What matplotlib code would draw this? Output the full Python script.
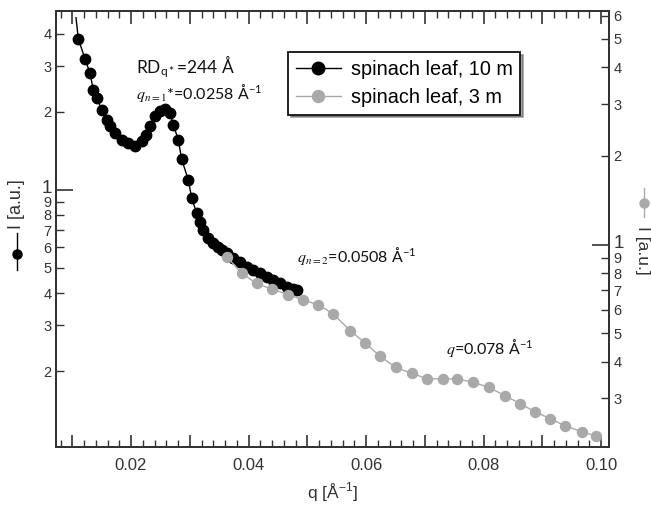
import matplotlib
matplotlib.use("Agg")
import matplotlib.pyplot as plt
from matplotlib.lines import Line2D
from matplotlib.transforms import ScaledTranslation

plt.rcParams["font.family"] = ["Liberation Sans", "DejaVu Sans"]
plt.rcParams["mathtext.fontset"] = "stix"

# spinach leaf, 10 m detector distance (left axis)
q_10m = [0.01064, 0.01103, 0.01217, 0.01302, 0.01358, 0.01416, 0.01501, 0.01586,
         0.01643, 0.01728, 0.01842, 0.01954, 0.02068, 0.02182, 0.02255, 0.02323,
         0.02409, 0.02494, 0.02579, 0.02664, 0.02720, 0.02805, 0.02863, 0.02975,
         0.03033, 0.03118, 0.03174, 0.03231, 0.03316, 0.03401, 0.03486, 0.03557,
         0.03629, 0.03741, 0.03855, 0.03969, 0.04082, 0.04196, 0.04310, 0.04422,
         0.04536, 0.04650, 0.04757, 0.04826]
I_10m = [4.61, 3.82, 3.20, 2.82, 2.43, 2.26, 2.04, 1.86, 1.76, 1.66, 1.56, 1.51,
         1.47, 1.54, 1.63, 1.76, 1.92, 2.01, 2.05, 1.98, 1.78, 1.56, 1.31, 1.093,
         0.929, 0.813, 0.754, 0.700, 0.651, 0.623, 0.604, 0.587, 0.569, 0.546,
         0.527, 0.506, 0.491, 0.477, 0.463, 0.449, 0.436, 0.423, 0.415, 0.411]

# spinach leaf, 3 m detector distance (right axis)
q_3m = [0.03629, 0.03884, 0.04140, 0.04395, 0.04678, 0.04933, 0.05188, 0.05444,
        0.05728, 0.05983, 0.06238, 0.06506, 0.06778, 0.07033, 0.07306, 0.07544,
        0.07826, 0.08090, 0.08366, 0.08621, 0.08877, 0.09132, 0.09387, 0.09672,
        0.09915]
I_3m = [0.910, 0.797, 0.737, 0.705, 0.676, 0.647, 0.624, 0.580, 0.510, 0.463,
        0.417, 0.382, 0.365, 0.350, 0.349, 0.349, 0.340, 0.327, 0.306, 0.288,
        0.270, 0.256, 0.242, 0.231, 0.223]

x_major = [0.01, 0.02, 0.03, 0.04, 0.05, 0.06, 0.07, 0.08, 0.09, 0.10]
x_labels = ["", "0.02", "", "0.04", "", "0.06", "", "0.08", "", "0.10"]

left_minor = [0.2, 0.3, 0.4, 0.5, 0.6, 0.7, 0.8, 0.9, 2, 3, 4]
left_minor_labels = ["2", "3", "4", "5", "6", "7", "8", "9", "2", "3", "4"]
right_minor = [0.3, 0.4, 0.5, 0.6, 0.7, 0.8, 0.9, 2, 3, 4, 5, 6]
right_minor_labels = ["3", "4", "5", "6", "7", "8", "9", "2", "3", "4", "5", "6"]

BLACK = "#000000"
GREY = "#a9a9a9"
SPINE = "#333333"
TXT = "#333333"

fig = plt.figure(figsize=(6.51, 5.05), dpi=100)
ax = fig.add_axes([0.086, 0.115, 0.8495, 0.8635])
ax2 = ax.twinx()

l1, = ax.plot(q_10m, I_10m, "-", color=BLACK, lw=1.0, marker="o", ms=7.5,
              mfc=BLACK, mec=BLACK, markevery=slice(1, None),
              label="spinach leaf, 10 m")
l2, = ax2.plot(q_3m, I_3m, "-", color=GREY, lw=1.0, marker="o", ms=7.2,
               mfc=GREY, mec=GREY, label="spinach leaf, 3 m")

ax.set_yscale("log")
ax2.set_yscale("log")
ax.set_xlim(0.00723, 0.10136)
ax.set_ylim(0.102, 4.9)
ax2.set_ylim(0.205, 6.23)

for a in (ax, ax2):
    for s in a.spines.values():
        s.set_color(SPINE)
        s.set_linewidth(1.4)

# x axis: inward ticks on bottom and top
ax.set_xticks(x_major)
ax.set_xticklabels(x_labels, fontsize=12, color=TXT)
ax.set_xticks([0.008 + 0.002 * i for i in range(47)], minor=True)
ax.tick_params(axis="x", which="major", direction="in", length=9, width=1.2,
               top=True, color=SPINE, pad=8)
ax.tick_params(axis="x", which="minor", direction="in", length=5, width=1.0,
               top=True, color=SPINE)

# left log axis
ax.set_yticks([1])
ax.set_yticklabels(["1"], fontsize=13.5, color=TXT)
ax.set_yticks(left_minor, minor=True)
ax.set_yticklabels(left_minor_labels, minor=True, fontsize=10.5, color=TXT)
ax.tick_params(axis="y", which="major", direction="in", length=12, width=1.2,
               color=SPINE, pad=3)
ax.tick_params(axis="y", which="minor", direction="in", length=6, width=1.0,
               color=SPINE, pad=3)

# right log axis
ax2.set_yticks([1])
ax2.set_yticklabels(["1"], fontsize=13.5, color=TXT)
ax2.set_yticks(right_minor, minor=True)
ax2.set_yticklabels(right_minor_labels, minor=True, fontsize=10.5, color=TXT)
ax2.tick_params(axis="y", which="major", direction="in", length=12, width=1.2,
                color=SPINE, pad=3)
ax2.tick_params(axis="y", which="minor", direction="in", length=6, width=1.0,
                color=SPINE, pad=3)

# lift the decade labels a little so they sit clear of the "9"
lift = ScaledTranslation(0, 3 / 100, fig.dpi_scale_trans)
for lab in ax.get_yticklabels() + ax2.get_yticklabels():
    lab.set_transform(lab.get_transform() + lift)

ax.set_xlabel(r"q [Å$^{\mathregular{-1}}$]", fontsize=12.5, color=TXT, labelpad=6)

# peak annotations
ann = dict(family=["Lato", "DejaVu Sans"], color="#111111", va="baseline")
ax.text(0.02085, 2.80, r"RD$_{\mathregular{q*}}$=244 Å", fontsize=12.5, **ann)
ax.text(0.02085, 2.25, r"$q_{n=1}$*=0.0258 Å$^{\mathregular{-1}}$", fontsize=11.5, **ann)
ax.text(0.04820, 0.527, r"$q_{n=2}$=0.0508 Å$^{\mathregular{-1}}$", fontsize=11.5, **ann)
ax.text(0.07362, 0.233, r"$q$=0.078 Å$^{\mathregular{-1}}$", fontsize=11.5, **ann)

leg = ax2.legend(handles=[l1, l2], loc="upper left", bbox_to_anchor=(0.4195, 0.906),
                 borderaxespad=0, fontsize=14.3, frameon=True, fancybox=False,
                 shadow=True, markerscale=1.2, handlelength=2.25,
                 borderpad=0.4, labelspacing=0.45, handletextpad=0.5)
leg.get_frame().set_edgecolor("#111111")
leg.get_frame().set_linewidth(1.3)

# axis titles with series keys
fig.text(0.026, 0.595, "I [a.u.]", rotation=90, ha="center", va="center",
         fontsize=13, color=TXT)
fig.add_artist(Line2D([0.0256, 0.0256], [0.4653, 0.5386], color=BLACK, lw=1.0,
                      transform=fig.transFigure))
fig.add_artist(Line2D([0.0256], [0.497], marker="o", ms=6.5, color=BLACK,
                      transform=fig.transFigure))
fig.text(0.987, 0.505, "I [a.u.]", rotation=-90, ha="center", va="center",
         fontsize=12.5, color=TXT)
fig.add_artist(Line2D([0.9885, 0.9885], [0.5703, 0.6277], color=GREY, lw=1.0,
                      transform=fig.transFigure))
fig.add_artist(Line2D([0.9885], [0.598], marker="o", ms=6.5, color=GREY,
                      transform=fig.transFigure))

fig.savefig("out.png", dpi=100)
